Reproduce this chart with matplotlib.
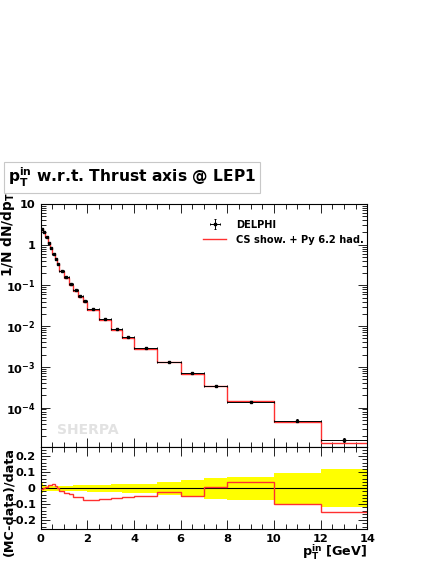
import numpy as np
import matplotlib
matplotlib.use("Agg")
import matplotlib.pyplot as plt
from matplotlib.ticker import MultipleLocator, LogLocator, FixedLocator, FuncFormatter, NullFormatter

plt.rcParams["font.family"] = ["DejaVu Sans"]
plt.rcParams["font.weight"] = "bold"
plt.rcParams["mathtext.fontset"] = "custom"
plt.rcParams["mathtext.rm"] = "DejaVu Sans:bold"
plt.rcParams["mathtext.it"] = "DejaVu Sans:bold"
plt.rcParams["mathtext.bf"] = "DejaVu Sans:bold"
plt.rcParams["mathtext.sf"] = "DejaVu Sans:bold"

# bin edges of the DELPHI pT_in measurement
bin_edges = [0.0, 0.1, 0.2, 0.3, 0.4, 0.5, 0.6, 0.7, 0.8, 1.0, 1.2, 1.4, 1.6, 1.8,
             2.0, 2.5, 3.0, 3.5, 4.0, 5.0, 6.0, 7.0, 8.0, 10.0, 12.0, 14.0]

# 1/N dN/dpT, data points
delphi = [2.39, 2.05, 1.52, 1.10, 0.82, 0.58, 0.44, 0.337, 0.231, 0.159, 0.107,
          0.076, 0.056, 0.0424, 0.0265, 0.0148, 0.0087, 0.0054, 0.00297,
          0.00135, 0.00070, 0.000335, 0.000138, 4.8e-5, 1.58e-5]
# relative data uncertainty (yellow band in the ratio)
delphi_relerr = [0.030, 0.020, 0.015, 0.015, 0.015, 0.015, 0.015, 0.015, 0.015,
                 0.016, 0.017, 0.018, 0.019, 0.020, 0.021, 0.023, 0.025, 0.027,
                 0.029, 0.042, 0.052, 0.065, 0.073, 0.096, 0.118]
# Sherpa prediction
mc = [2.376, 2.058, 1.535, 1.121, 0.839, 0.5945, 0.447, 0.337, 0.2275, 0.1541,
      0.1029, 0.0719, 0.05286, 0.0393, 0.02457, 0.01381, 0.00817, 0.0051,
      0.002827, 0.001319, 0.000668, 0.000337, 0.0001437, 4.33e-5, 1.343e-5]

edges = np.array(bin_edges)
data = np.array(delphi)
relerr = np.array(delphi_relerr)
mcv = np.array(mc)
centers = 0.5 * (edges[1:] + edges[:-1])
halfw = 0.5 * (edges[1:] - edges[:-1])
ratio = (mcv - data) / data

fig = plt.figure(figsize=(4.41, 5.70), dpi=100)
ax = fig.add_axes([0.0923, 0.2158, 0.7406, 0.4263])
rax = fig.add_axes([0.0923, 0.0719, 0.7406, 0.1439], sharex=ax)

# main panel
ax.stairs(mcv, edges, baseline=None, color="#ff3030", lw=1.0, zorder=2,
          label="CS show. + Py 6.2 had.")
ax.errorbar(centers, data, xerr=halfw, yerr=data * relerr, fmt="s", ms=1.7,
            color="black", ecolor="black", elinewidth=0.7, capsize=1.0,
            capthick=0.7, zorder=3, label="DELPHI")
ax.set_yscale("log")
ax.set_xlim(0, 14)
ax.set_ylim(1.08e-5, 10)

def log_label(v, pos):
    if v == 10:
        return "10"
    if v == 1:
        return "1"
    return "$10^{%d}$" % int(round(np.log10(v)))

ax.yaxis.set_major_locator(LogLocator(base=10, numticks=12))
ax.yaxis.set_minor_locator(LogLocator(base=10, subs=np.arange(2, 10), numticks=12))
ax.yaxis.set_major_formatter(FuncFormatter(log_label))
ax.yaxis.set_minor_formatter(NullFormatter())
ax.tick_params(labelbottom=False)

h, l = ax.get_legend_handles_labels()
ax.legend(h[::-1], l[::-1], loc="upper left", bbox_to_anchor=(0.498, 0.935),
          frameon=False, prop={"size": 7.1, "weight": "bold"}, handlelength=2.3,
          handletextpad=1.0, borderpad=0, borderaxespad=0, labelspacing=0.5)

ax.text(0.049, 0.07, "SHERPA", transform=ax.transAxes, color="#e2e2e2",
        fontsize=10, fontweight="bold", va="center", ha="left")

ax.set_ylabel("1/N dN/dp$_\\mathrm{T}$", fontsize=9.8, fontweight="bold", loc="top")
ax.yaxis.set_label_coords(-0.073, 1.05)

# ratio panel
rax.stairs(relerr, edges, baseline=-relerr, fill=True, color="#ffff00", lw=0, zorder=1)
rax.axhline(0, color="black", lw=0.8, zorder=2)
rax.stairs(ratio, edges, baseline=None, color="#ff3030", lw=1.0, zorder=3)
rax.set_ylim(-0.255, 0.258)
rax.yaxis.set_major_locator(FixedLocator([-0.2, -0.1, 0.0, 0.1, 0.2]))
rax.yaxis.set_minor_locator(MultipleLocator(0.02))
rax.yaxis.set_major_formatter(FuncFormatter(lambda v, p: "%g" % round(v, 2) if abs(v) > 1e-9 else "0"))
rax.xaxis.set_major_locator(MultipleLocator(2))
rax.xaxis.set_minor_locator(MultipleLocator(0.5))
rax.set_ylabel("(MC-data)/data", fontsize=9.2, fontweight="bold", loc="top")
rax.yaxis.set_label_coords(-0.079, 1.0)
rax.set_xlabel("p$_\\mathrm{T}^\\mathrm{in}$ [GeV]", fontsize=9.2, fontweight="bold", loc="right")
rax.xaxis.set_label_coords(1.0, -0.16)

for a in (ax, rax):
    a.tick_params(which="both", direction="in", top=True, right=True,
                  width=0.6, labelsize=8.2, pad=3.5)
    a.tick_params(which="major", length=6.5)
    a.tick_params(which="minor", length=3.5)
    for lab in a.get_xticklabels() + a.get_yticklabels():
        lab.set_fontweight("bold")
    for s in a.spines.values():
        s.set_linewidth(0.8)

# title box
fig.text(0.019, 0.688, "p$_\\mathrm{T}^\\mathrm{in}$ w.r.t. Thrust axis @ LEP1",
         fontsize=11.2, fontweight="bold", va="center", ha="left",
         bbox=dict(boxstyle="square,pad=0.25", fc="white", ec="#c8c8c8", lw=0.8))

fig.savefig("out.png", dpi=100)
